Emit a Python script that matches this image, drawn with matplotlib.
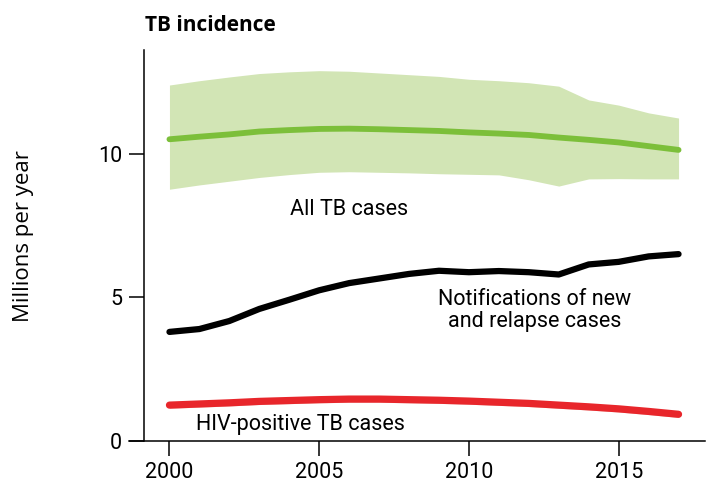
import matplotlib.pyplot as plt

# Dados (milhões por ano)
anos = list(range(2000, 2018))
incidencia = [10.51, 10.60, 10.68, 10.78, 10.83, 10.87, 10.88, 10.86, 10.83,
              10.80, 10.75, 10.71, 10.66, 10.57, 10.49, 10.40, 10.27, 10.14]
incidencia_sup = [12.40, 12.55, 12.68, 12.80, 12.86, 12.90, 12.88, 12.82, 12.76,
                  12.70, 12.60, 12.55, 12.48, 12.36, 11.88, 11.70, 11.43, 11.25]
incidencia_inf = [8.77, 8.92, 9.05, 9.18, 9.28, 9.36, 9.38, 9.36, 9.34,
                  9.31, 9.29, 9.27, 9.10, 8.88, 9.13, 9.14, 9.13, 9.13]
notificacoes = [3.80, 3.90, 4.18, 4.60, 4.92, 5.25, 5.50, 5.66, 5.82,
                5.93, 5.88, 5.92, 5.88, 5.80, 6.15, 6.24, 6.43, 6.51]
hiv = [1.25, 1.29, 1.33, 1.38, 1.41, 1.44, 1.46, 1.46, 1.44,
       1.42, 1.39, 1.35, 1.31, 1.25, 1.19, 1.12, 1.03, 0.93]

anos_ticks = [2000, 2005, 2010, 2015]
y_ticks = [0, 5, 10]

fig = plt.figure(figsize=(7.27, 5.04), dpi=100)
ax = fig.add_axes([0.1774, 0.125, 0.7922, 0.7758])

ax.fill_between(anos, incidencia_inf, incidencia_sup, color='#d2e5b5', linewidth=0)
ax.plot(anos, incidencia, color='#7cbf3a', linewidth=4.2, solid_capstyle='round')
ax.plot(anos, notificacoes, color='black', linewidth=4.5, solid_capstyle='round')
ax.fill_between(anos, [v - 0.11 for v in hiv], [v + 0.11 for v in hiv],
                color='#f2b8b0', linewidth=0)
ax.plot(anos, hiv, color='#e8262b', linewidth=5.2, solid_capstyle='round')

ax.set_xlim(1998.648, 2017.88)
ax.set_ylim(0, 13.62)
ax.spines['top'].set_visible(False)
ax.spines['right'].set_visible(False)
ax.spines['left'].set_position(('data', 1999.16))
ax.spines['left'].set_linewidth(1.1)
ax.spines['bottom'].set_linewidth(1.1)

ax.set_xticks(anos_ticks)
ax.set_yticks(y_ticks)
ax.tick_params(axis='x', length=11, width=1.1, pad=4, labelsize=15.5)
ax.tick_params(axis='y', length=11, width=1.1, pad=5, labelsize=15.5)
for t in ax.get_xticklabels() + ax.get_yticklabels():
    t.set_fontfamily('Roboto')

ax.set_ylabel("Millions per year", fontsize=16, fontfamily='Open Sans', labelpad=0)
ax.yaxis.set_label_coords(-0.165, 0.525)

fig.text(0.199, 0.95, "TB incidence", fontsize=15, fontweight='bold',
         fontfamily='Open Sans', va='center', ha='left')

ax.text(2006.0, 8.05, "All TB cases", fontsize=15.5, fontfamily='Roboto',
        ha='center', va='center')
ax.text(2012.2, 4.55, "Notifications of new\nand relapse cases", fontsize=15.5,
        fontfamily='Roboto', ha='center', va='center', linespacing=1.1)
ax.text(2000.87, 0.56, "HIV-positive TB cases", fontsize=15.5, fontfamily='Roboto',
        ha='left', va='center')

plt.savefig('out.png', dpi=100)
